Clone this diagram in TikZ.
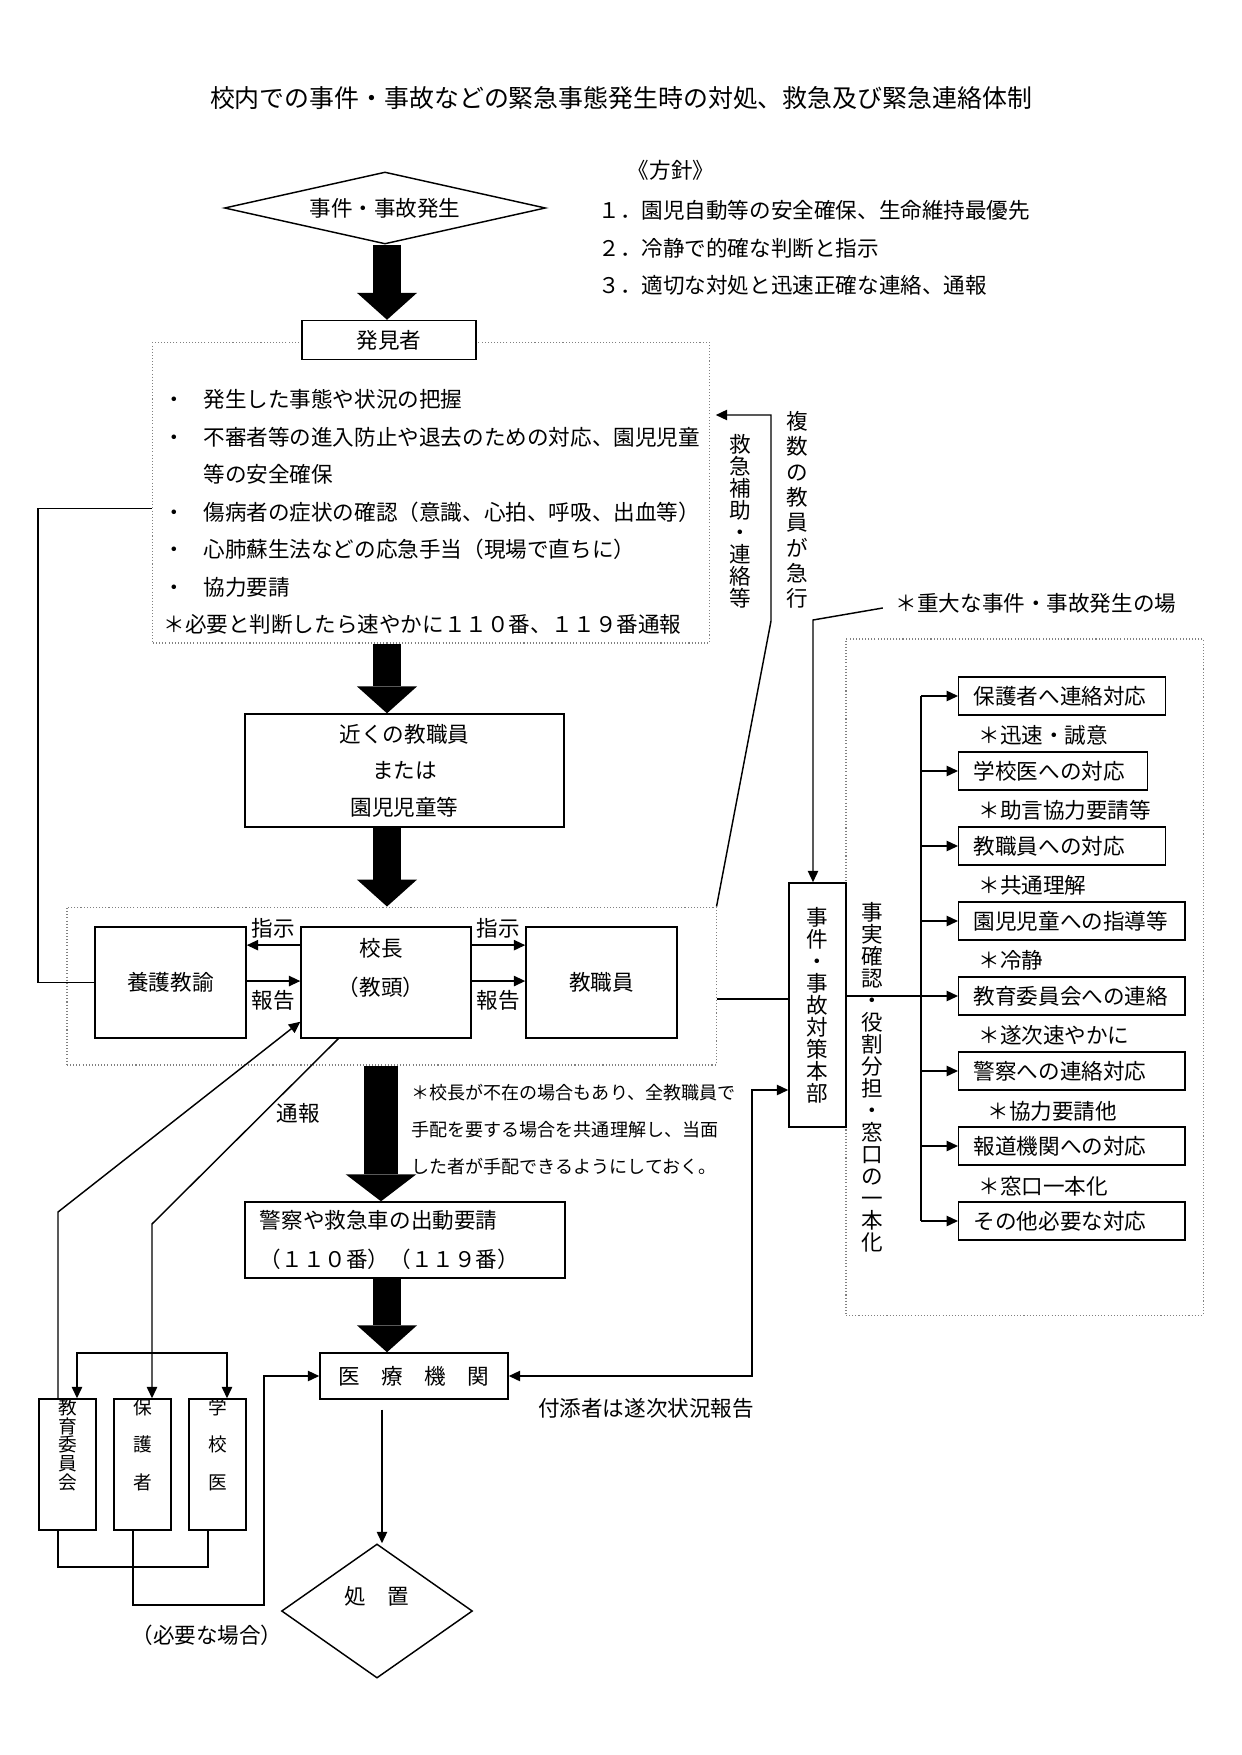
\documentclass[tikz,border=0pt]{standalone}
\usepackage{fontspec}
\setmainfont{Noto Sans CJK JP}
\usetikzlibrary{positioning,shapes.geometric,arrows.meta}

\newcommand\bodyfont{\fontsize{10.4}{18}\selectfont}
\newcommand\vfont{\fontsize{10.4}{10.6}\selectfont\lineskiplimit=-20pt\relax}
\newcommand\vfontwide{\fontsize{10.4}{12.2}\selectfont\lineskiplimit=-20pt\relax}
\newcommand\svfont{\fontsize{9}{9}\selectfont\lineskiplimit=-20pt\relax}
\newcommand\svfontwide{\fontsize{9}{18}\selectfont\lineskiplimit=-20pt\relax}

\begin{document}
\begin{tikzpicture}[x=0.4818pt, y=-0.4818pt,
	every node/.style={font=\bodyfont, inner sep=0pt},
	b/.style={draw, line width=0.7pt, fill=white},
	dbox/.style={draw=gray, densely dotted, line width=0.5pt},
	l/.style={line width=0.7pt},
	a/.style={line width=0.7pt, -{Triangle[length=5.5pt, width=5pt]}},
	aa/.style={line width=0.7pt, {Triangle[length=5.5pt, width=5pt]}-{Triangle[length=5.5pt, width=5pt]}},
	big/.style={line width=13.5pt, -{Triangle[length=13pt, width=29pt, line width=0pt]}},
	bigger/.style={line width=16pt, -{Triangle[length=13pt, width=34pt, line width=0pt]}},
	rb/.style={b, anchor=west, align=left, inner xsep=7.2pt, minimum height=18.3pt},
	note/.style={anchor=west},
	vt/.style={align=center, font=\vfont},
	sv/.style={align=center, anchor=north, font=\svfont}]
	\useasboundingbox (0,0) rectangle (1241,1755);

	\node[dbox, minimum width=267.9pt, minimum height=145pt] (mainbox) at (431,492.5) {};
	\node[dbox, minimum width=312.7pt, minimum height=76.1pt] (dotbox2) at (391.5,986) {};
	\node[dbox, minimum width=172pt, minimum height=325.7pt] (rdot) at (1024.5,977) {};

	\node[font=\fontsize{12}{14}\selectfont] (title) at (621,98) {校内での事件・事故などの緊急事態発生時の対処、救急及び緊急連絡体制};
	\node (hoshin) at (671,170) {《方針》};
	\node[anchor=west] (pol1) at (598,210) {１．園児自動等の安全確保、生命維持最優先};
	\node[anchor=west] (pol2) at (598,248) {２．冷静で的確な判断と指示};
	\node[anchor=west] (pol3) at (598,285) {３．適切な対処と迅速正確な連絡、通報};

	\node[draw, l, diamond, aspect=4.4, minimum width=154.7pt, minimum height=34.7pt] (hassei) at (385,208) {事件・事故発生};
	\node[b, minimum width=83.8pt, minimum height=18.8pt] (hakken) at (389,340) {発見者};
	\node[anchor=west, align=left, font=\fontsize{10.4}{18.07}\selectfont] (todo) at (163,512) {・\hspace{8.9pt}発生した事態や状況の把握\\・\hspace{8.9pt}不審者等の進入防止や退去のための対応、園児児童\\\hspace*{19.3pt}等の安全確保\\・\hspace{8.9pt}傷病者の症状の確認（意識、心拍、呼吸、出血等）\\・\hspace{8.9pt}心肺蘇生法などの応急手当（現場で直ちに）\\・\hspace{8.9pt}協力要請\\＊必要と判断したら速やかに１１０番、１１９番通報};

	\node[b, minimum width=153.7pt, minimum height=54.4pt, align=center, font=\fontsize{10.4}{17.6}\selectfont] (kinjo) at (404.5,770.5) {近くの教職員\\または\\園児児童等};

	\node[b, minimum width=72.8pt, minimum height=53.5pt] (yogo) at (170.5,982.5) {養護教諭};
	\node[b, minimum width=81.9pt, minimum height=53.5pt] (kocho) at (386,982.5) {};
	\node[align=center, font=\fontsize{10.4}{18.8}\selectfont] (kocho_t) at (381,967.5) {校長\\（教頭）};
	\node[b, minimum width=72.8pt, minimum height=53.5pt] (kyoshoku) at (601.5,982.5) {教職員};

	\draw[a] ([yshift=18pt]kocho.west) -- node[above=3pt] (shiji1) {指示} ([yshift=18pt]yogo.east);
	\draw[a] ([yshift=0.7pt]yogo.east) -- node[below=4pt] (hokoku1) {報告} ([yshift=0.7pt]kocho.west);
	\draw[a] ([yshift=18pt]kocho.east) -- node[above=3pt] (shiji2) {指示} ([yshift=18pt]kyoshoku.west);
	\draw[a] ([yshift=0.7pt]kocho.east) -- node[below=4pt] (hokoku2) {報告} ([yshift=0.7pt]kyoshoku.west);

	\draw[l] (yogo.west) -- ++(-56,0) |- ([yshift=-7.7pt]mainbox.west);

	\coordinate (kyu_bend) at (771,621);
	\coordinate (kyu_top) at (771,415);
	\draw[a, shorten >=3pt] (dotbox2.north east) -- (kyu_bend) -- (kyu_top) -- (kyu_top -| mainbox.east);
	\node[vt] (kyu_t) at (740,521) {救\\急\\補\\助\\・\\連\\絡\\等};
	\node[vt, font=\vfontwide] (fukusu_t) at (797,510) {複\\数\\の\\教\\員\\が\\急\\行};

	\node (juudai) at (1036,603) {＊重大な事件・事故発生の場};
	\node[b, vt, minimum width=27.5pt, minimum height=117.6pt] (jiken) at (817.5,1005) {事\\件\\・\\事\\故\\対\\策\\本\\部};
	\coordinate (kink) at (813,620);
	\draw[a] ([xshift=-6pt, yshift=-2.4pt]juudai.west) -- (kink) -- (kink |- jiken.north);
	\node[vt] (jijitsu_t) at (872,1077) {事\\実\\確\\認\\・\\役\\割\\分\\担\\・\\窓\\口\\の\\一\\本\\化};

	\coordinate (hon_in) at (789,999);
	\draw[l] (hon_in -| dotbox2.east) -- (hon_in);

	\node[rb, text width=85.3pt] (r1) at (958,696) {保護者へ連絡対応};
	\node[rb, text width=76.6pt] (r2) at (958,771) {学校医への対応};
	\node[rb, text width=85.3pt] (r3) at (958,846) {教職員への対応};
	\node[rb, text width=94.5pt] (r4) at (958,921) {園児児童への指導等};
	\node[rb, text width=94.5pt] (r5) at (958,996) {教育委員会への連絡};
	\node[rb, text width=94.5pt] (r6) at (958,1071) {警察への連絡対応};
	\node[rb, text width=94.5pt] (r7) at (958,1146) {報道機関への対応};
	\node[rb, text width=94.5pt] (r8) at (958,1221) {その他必要な対応};
	\node[note] (n1) at (978,735) {＊迅速・誠意};
	\node[note] (n2) at (978,810) {＊助言協力要請等};
	\node[note] (n3) at (978,885) {＊共通理解};
	\node[note] (n4) at (978,960) {＊冷静};
	\node[note] (n5) at (978,1035) {＊遂次速やかに};
	\node[note] (n6) at (987,1111) {＊協力要請他};
	\node[note] (n7) at (978,1186) {＊窓口一本化};

	\coordinate (brk) at (921,0);
	\draw[l] (brk |- r1) -- (brk |- r8);
	\draw[a] (brk |- r1) -- (r1);
	\draw[a] (brk |- r2) -- (r2);
	\draw[a] (brk |- r3) -- (r3);
	\draw[a] (brk |- r4) -- (r4);
	\draw[a] (jiken.east |- r5) -- (r5);
	\draw[a] (brk |- r6) -- (r6);
	\draw[a] (brk |- r7) -- (r7);
	\draw[a] (brk |- r8) -- (r8);

	\node[anchor=west, align=left, font=\fontsize{8.7}{17.8}\selectfont] (fuzai) at (411,1130) {＊校長が不在の場合もあり、全教職員で\\手配を要する場合を共通理解し、当面\\した者が手配できるようにしておく。};
	\node[b, minimum width=154.2pt, minimum height=36.6pt, text width=139.8pt, align=left, inner xsep=7.2pt, font=\fontsize{10.4}{18.8}\selectfont] (keisatsu) at (405,1240) {警察や救急車の出動要請\\（１１０番）（１１９番）};
	\node[b, minimum width=90.6pt, minimum height=22.2pt] (iryo) at (414,1376) {医　療　機　関};
	\node[draw, l, diamond, aspect=1.6, minimum width=92pt, minimum height=64.6pt, text depth=15pt] (shochi) at (377,1611) {処　置};

	\coordinate (axis) at (387,0);
	\coordinate (axis4) at (381,0);
	\draw[big] (axis |- hassei.south) -- (axis |- hakken.north);
	\draw[big] (axis |- mainbox.south) -- (axis |- kinjo.north);
	\draw[big] (axis |- kinjo.south) -- (axis |- dotbox2.north);
	\draw[bigger] (axis4 |- dotbox2.south) -- (axis4 |- keisatsu.north);
	\draw[big] (axis |- keisatsu.south) -- (axis |- iryo.north);
	\draw[a, shorten <=4.8pt] ([xshift=2.4pt]shochi.north |- iryo.south) -- ([xshift=2.4pt]shochi.north);

	\node[b, minimum width=27.5pt, minimum height=63.1pt, label={[sv]north:教\\育\\委\\員\\会}] (kyoiku) at (67.5,1464.5) {};
	\node[b, minimum width=27.5pt, minimum height=63.1pt, label={[sv, font=\svfontwide]north:保\\護\\者}] (hogo) at (142.5,1464.5) {};
	\node[b, minimum width=27.5pt, minimum height=63.1pt, label={[sv, font=\svfontwide]north:学\\校\\医}] (gakko) at (217.5,1464.5) {};

	\coordinate (s1) at (58,1212);
	\draw[a] (kyoiku.north -| s1) -- (s1) -- ([yshift=8.2pt]kocho.south west);
	\coordinate (s2) at (152,1224);
	\draw[a] ([xshift=18.3pt]kocho.south west) -- node[pos=0.4, right=6pt] (tsuho) {通報} (s2) -- (s2 |- hogo.north);
	\coordinate (d1) at (77,1353);
	\coordinate (d2) at (227,1353);
	\draw[aa] (d1 |- kyoiku.north) -- (d1) -- (d2) -- (d2 |- gakko.north);
	\coordinate (b1) at (58,1567);
	\coordinate (b2) at (208,1567);
	\draw[l] (b1 |- kyoiku.south) -- (b1) -- (b2) -- (b2 |- gakko.south);
	\coordinate (b3) at (133,1605);
	\coordinate (b4) at (264,1605);
	\draw[a] (b3 |- hogo.south) -- (b3) -- (b4) |- (iryo.west);
	\node (hitsuyo) at (207,1635) {（必要な場合）};

	\node (tsuki_t) at (646,1408) {付添者は遂次状況報告};
	\coordinate (tsuki) at (752,1090);
	\draw[aa] (iryo.east) -| (tsuki) -- (tsuki -| jiken.west);
\end{tikzpicture}
\end{document}
